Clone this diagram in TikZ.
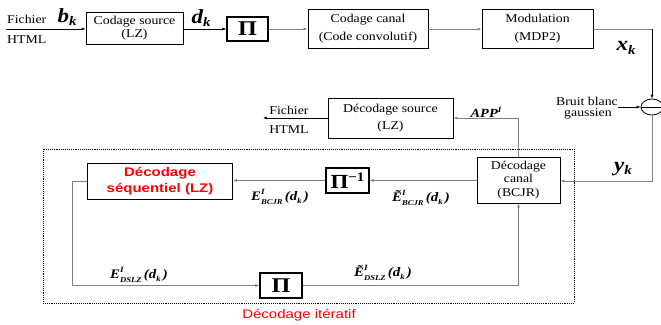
\documentclass[tikz,border=0pt]{standalone}
\usepackage{fontspec}
\setmainfont{Liberation Serif}[FakeStretch=1.15]
\newfontfamily\redsans{Liberation Sans}[FakeStretch=1.2]
\usetikzlibrary{arrows.meta,shapes.geometric}
\newcommand\bi{\bfseries\itshape}
\newcommand\fs[1]{\fontsize{#1}{#1}\selectfont}
\newcommand\klab[1]{\fs{20}\bi #1\raisebox{-0.35ex}{\fs{13}k}}
\newcommand\elab[2]{\fs{13}\bi #1\rlap{\raisebox{1.0ex}{\fs{8}I}}\raisebox{-0.6ex}{\fs{7.5}#2}\,(d\raisebox{-0.5ex}{\fs{7.5}k}\,)}
\begin{document}
\begin{tikzpicture}[x=1pt,y=-1pt,
  box/.style={draw, line width=0.8pt, inner sep=0pt, align=center, font=\fs{12}},
  pibox/.style={draw, line width=1.1pt, inner sep=0pt, align=center},
  txt/.style={inner sep=0pt, font=\fs{12}},
  conn/.style={line width=0.6pt, -{Latex[length=4pt,width=3pt]}},
  gconn/.style={conn, draw=black!50, line width=0.9pt},
  gline/.style={draw=black!50, line width=0.9pt}]
\useasboundingbox (0,0) rectangle (661,324);

% top row
\node[txt, anchor=west] (f1) at (7,19) {Fichier};
\node[txt, anchor=west] (h1) at (7,40) {HTML};
\coordinate (in) at (6,29);
\node[box, minimum width=97pt, minimum height=32pt] (cs) at (134.5,28.5) {Codage source\\[1pt](LZ)};
\node[inner sep=0pt] (bk) at (67,17) {\klab{b}};
\node[inner sep=0pt] (dk) at (201,18) {\klab{d}};
\node[pibox, minimum width=41pt, minimum height=24pt] (pi1) at (247.5,29) {\fs{21}\bfseries Π};
\node[box, minimum width=120pt, minimum height=39pt] (cc) at (368,28.5) {Codage canal\\[6pt](Code convolutif)};
\node[box, minimum width=111pt, minimum height=39pt] (mod) at (537.5,28.5) {Modulation\\[6pt](MDP2)};
\coordinate (c1) at (652,29);
\node[inner sep=0pt] (xk) at (626,48) {\klab{x}};

% noise
\node[draw, ellipse, line width=0.8pt, minimum width=22pt, minimum height=16pt, inner sep=0pt] (plus) at (652,107) {};
\draw[line width=0.8pt] (plus.west) -- (plus.east);
\node[txt] (bb) at (587,101) {Bruit blanc};
\node[txt] (ga) at (588,114) {gaussien};
\coordinate (bbin) at (618,107);
\coordinate (c2) at (652,181);
\node[inner sep=0pt] (yk) at (623,169) {\klab{y}};

% decoding
\node[box, minimum width=83pt, minimum height=46pt, font=\fontsize{12}{13.5}\selectfont] (dc) at (518.5,180) {Décodage\\canal\\(BCJR)};
\node[box, minimum width=125pt, minimum height=40pt] (ds) at (390.5,118) {Décodage source\\[5pt](LZ)};
\node[inner sep=0pt] (app) at (486,112) {\fs{12.5}\bi APP\raisebox{0.9ex}{\fs{8}I}};
\node[txt] (f2) at (289,110) {Fichier};
\node[txt] (h2) at (289,130) {HTML};
\coordinate (out) at (263,118);

\node[pibox, minimum width=43pt, minimum height=25pt] (piinv) at (347.5,180.5) {\fs{20}\bfseries Π\raisebox{0.8ex}{\fs{13}−1}};
\node[draw, line width=0.8pt, minimum width=145pt, minimum height=36pt, inner sep=0pt, align=center, text=red, font=\redsans\bfseries\fontsize{12.5}{16}\selectfont] (dsq) at (160,181) {Décodage\\séquentiel (LZ)};
\node[pibox, minimum width=42pt, minimum height=25pt] (pi2) at (281,285.5) {\fs{21}\bfseries Π};

\node[inner sep=0pt] (e1) at (280,197) {\elab{E}{BCJR}};
\node[inner sep=0pt] (e2) at (421,198) {\elab{Ẽ}{BCJR}};
\node[inner sep=0pt] (e3) at (139,275) {\elab{E}{DSLZ}};
\node[inner sep=0pt] (e4) at (383,273) {\elab{Ẽ}{DSLZ}};

\draw[densely dotted, line width=0.9pt] (43,149) rectangle (574,303);
\node[inner sep=0pt, text=red, font=\redsans\fs{12.5}] (it) at (299,315) {Décodage itératif};

% connectors
\draw[conn] (in) -- (cs.west |- in);
\draw[conn] (cs.east |- pi1.west) -- (pi1.west);
\draw[gconn] (pi1.east) -- (cc.west |- pi1.east);
\draw[gconn] (cc.east |- c1) -- (mod.west |- c1);
\draw[gline] (mod.east |- c1) -- (c1);
\draw[conn] (c1) -- (plus.north);
\draw[conn] (bbin) -- (plus.west);
\draw[gconn] (plus.south) -- (c2) -- (dc.east |- c2);
\draw[gconn] (dc.north) |- (ds.east);
\draw[conn] (ds.west) -- (out);
\draw[gconn] (dc.west |- piinv.east) -- (piinv.east);
\draw[gconn] (piinv.west) -- (dsq.east |- piinv.west);
\draw[gconn] (dsq.west) -- ++(-15,0) |- (pi2.west);
\draw[gconn] (pi2.east) -| (dc.south);
\end{tikzpicture}
\end{document}
